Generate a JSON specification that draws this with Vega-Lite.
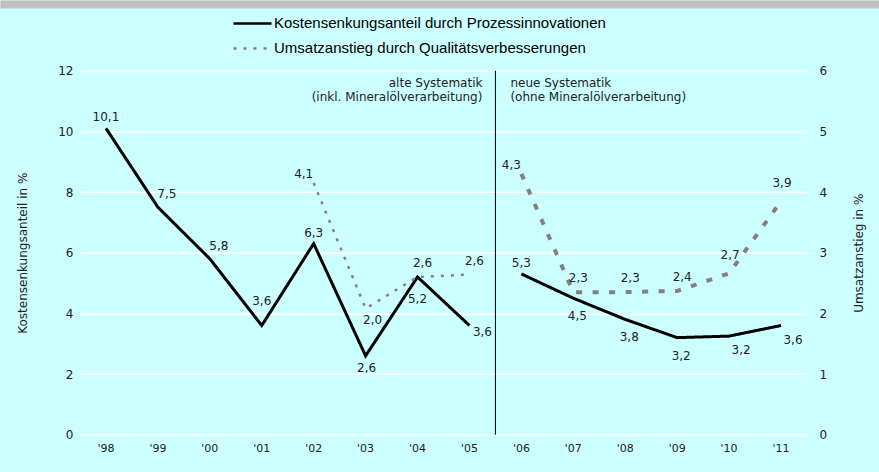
{
  "$schema": "https://vega.github.io/schema/vega-lite/v6.json",
  "background": "#CCFFFF",
  "autosize": {"type": "none"},
  "padding": {"left": 80, "top": 70.7, "right": 72, "bottom": 37.3},
  "width": 727,
  "height": 364,
  "config": {"view": {"stroke": null}, "font": "DejaVu Sans", "text": {"font": "DejaVu Sans", "fontSize": 12, "color": "#222222"}},
  "datasets": {
    "werte": [
      {"jahr": "'98", "reihe": "K", "serie": "Kostensenkungsanteil durch Prozessinnovationen", "periode": "alt", "wert": 10.1, "label": "10,1"},
      {"jahr": "'99", "reihe": "K", "serie": "Kostensenkungsanteil durch Prozessinnovationen", "periode": "alt", "wert": 7.5, "label": "7,5"},
      {"jahr": "'00", "reihe": "K", "serie": "Kostensenkungsanteil durch Prozessinnovationen", "periode": "alt", "wert": 5.8, "label": "5,8"},
      {"jahr": "'01", "reihe": "K", "serie": "Kostensenkungsanteil durch Prozessinnovationen", "periode": "alt", "wert": 3.6, "label": "3,6"},
      {"jahr": "'02", "reihe": "K", "serie": "Kostensenkungsanteil durch Prozessinnovationen", "periode": "alt", "wert": 6.3, "label": "6,3"},
      {"jahr": "'03", "reihe": "K", "serie": "Kostensenkungsanteil durch Prozessinnovationen", "periode": "alt", "wert": 2.6, "label": "2,6"},
      {"jahr": "'04", "reihe": "K", "serie": "Kostensenkungsanteil durch Prozessinnovationen", "periode": "alt", "wert": 5.2, "label": "5,2"},
      {"jahr": "'05", "reihe": "K", "serie": "Kostensenkungsanteil durch Prozessinnovationen", "periode": "alt", "wert": 3.6, "label": "3,6"},
      {"jahr": "'06", "reihe": "K", "serie": "Kostensenkungsanteil durch Prozessinnovationen", "periode": "neu", "wert": 5.3, "label": "5,3"},
      {"jahr": "'07", "reihe": "K", "serie": "Kostensenkungsanteil durch Prozessinnovationen", "periode": "neu", "wert": 4.5, "label": "4,5"},
      {"jahr": "'08", "reihe": "K", "serie": "Kostensenkungsanteil durch Prozessinnovationen", "periode": "neu", "wert": 3.8, "label": "3,8"},
      {"jahr": "'09", "reihe": "K", "serie": "Kostensenkungsanteil durch Prozessinnovationen", "periode": "neu", "wert": 3.2, "label": "3,2"},
      {"jahr": "'10", "reihe": "K", "serie": "Kostensenkungsanteil durch Prozessinnovationen", "periode": "neu", "wert": 3.25, "label": "3,2"},
      {"jahr": "'11", "reihe": "K", "serie": "Kostensenkungsanteil durch Prozessinnovationen", "periode": "neu", "wert": 3.6, "label": "3,6"},
      {"jahr": "'02", "reihe": "U", "serie": "Umsatzanstieg durch Qualitätsverbesserungen", "periode": "alt", "wert": 4.15, "label": "4,1"},
      {"jahr": "'03", "reihe": "U", "serie": "Umsatzanstieg durch Qualitätsverbesserungen", "periode": "alt", "wert": 2.08, "label": "2,0"},
      {"jahr": "'04", "reihe": "U", "serie": "Umsatzanstieg durch Qualitätsverbesserungen", "periode": "alt", "wert": 2.6, "label": "2,6"},
      {"jahr": "'05", "reihe": "U", "serie": "Umsatzanstieg durch Qualitätsverbesserungen", "periode": "alt", "wert": 2.64, "label": "2,6"},
      {"jahr": "'06", "reihe": "U", "serie": "Umsatzanstieg durch Qualitätsverbesserungen", "periode": "neu", "wert": 4.3, "label": "4,3"},
      {"jahr": "'07", "reihe": "U", "serie": "Umsatzanstieg durch Qualitätsverbesserungen", "periode": "neu", "wert": 2.35, "label": "2,3"},
      {"jahr": "'08", "reihe": "U", "serie": "Umsatzanstieg durch Qualitätsverbesserungen", "periode": "neu", "wert": 2.35, "label": "2,3"},
      {"jahr": "'09", "reihe": "U", "serie": "Umsatzanstieg durch Qualitätsverbesserungen", "periode": "neu", "wert": 2.37, "label": "2,4"},
      {"jahr": "'10", "reihe": "U", "serie": "Umsatzanstieg durch Qualitätsverbesserungen", "periode": "neu", "wert": 2.66, "label": "2,7"},
      {"jahr": "'11", "reihe": "U", "serie": "Umsatzanstieg durch Qualitätsverbesserungen", "periode": "neu", "wert": 3.85, "label": "3,9"}
    ],
    "hinweise": [
      {"periode": "alt", "zeilen": ["alte Systematik", "(inkl. Mineralölverarbeitung)"]},
      {"periode": "neu", "zeilen": ["neue Systematik", "(ohne Mineralölverarbeitung)"]}
    ],
    "kopf": [{"v": 1}]
  },
  "data": {"name": "werte"},
  "resolve": {"scale": {"x": "independent"}, "axis": {"x": "independent"}},
  "layer": [
    {
      "data": {"name": "kopf"},
      "mark": {"type": "text"},
      "encoding": {
        "text": {"value": ""},
        "x": {"field": "v", "type": "quantitative", "scale": {"domain": [0, 1], "range": [-80, 799], "nice": false, "zero": false}, "axis": {"orient": "top", "offset": 66.7, "domain": true, "domainWidth": 8, "domainColor": "#C0C0C0", "domainCap": "butt", "ticks": false, "labels": false, "grid": false, "title": null}}
      }
    },
    {
      "resolve": {"scale": {"y": "independent"}},
      "encoding": {
        "x": {
          "field": "jahr", "type": "nominal", "bandPosition": 0.5,
          "scale": {"type": "band", "domain": ["'98", "'99", "'00", "'01", "'02", "'03", "'04", "'05", "'06", "'07", "'08", "'09", "'10", "'11"], "paddingInner": 0, "paddingOuter": 0},
          "axis": {"orient": "bottom", "title": null, "labelAngle": 0, "ticks": false, "domain": false, "grid": false, "labelPadding": 8, "labelFontSize": 11, "labelColor": "#222222", "labelFont": "DejaVu Sans"}
        }
      },
      "layer": [
        {
          "layer": [
            {
              "data": {"values": [{}]},
              "mark": {"type": "rule", "color": "#000000", "strokeWidth": 1},
              "encoding": {"x": {"datum": "'06", "type": "nominal", "bandPosition": 0}}
            },
            {
              "data": {"name": "hinweise"},
              "transform": [{"filter": {"field": "periode", "equal": "alt"}}],
              "mark": {"type": "text", "align": "right", "baseline": "top", "dx": -13, "dy": 7, "lineHeight": 14.5},
              "encoding": {"x": {"datum": "'06", "type": "nominal", "bandPosition": 0}, "y": {"datum": 12, "type": "quantitative"}, "text": {"field": "zeilen"}}
            },
            {
              "data": {"name": "hinweise"},
              "transform": [{"filter": {"field": "periode", "equal": "neu"}}],
              "mark": {"type": "text", "align": "left", "baseline": "top", "dx": 15, "dy": 7, "lineHeight": 14.5},
              "encoding": {"x": {"datum": "'06", "type": "nominal", "bandPosition": 0}, "y": {"datum": 12, "type": "quantitative"}, "text": {"field": "zeilen"}}
            },
            {
              "transform": [{"filter": {"field": "reihe", "equal": "K"}}],
              "mark": {"type": "line", "strokeWidth": 3, "strokeCap": "butt", "strokeJoin": "miter"},
              "encoding": {
                "y": {
                  "field": "wert", "type": "quantitative",
                  "scale": {"domain": [0, 12], "nice": false},
                  "axis": {"orient": "left", "title": "Kostensenkungsanteil in %", "values": [0, 2, 4, 6, 8, 10, 12], "format": "d", "grid": true, "gridColor": "#FFFFFF", "gridWidth": 1.5, "domain": false, "ticks": false, "labelPadding": 7, "labelFontSize": 12, "labelColor": "#222222", "labelFont": "DejaVu Sans", "titleFont": "DejaVu Sans", "titleFontSize": 12, "titleFontWeight": "normal", "titleColor": "#222222", "titleX": -58, "titleY": 182, "titleAngle": 270, "titleBaseline": "middle", "titleAlign": "center"}
                },
                "color": {
                  "field": "serie", "type": "nominal",
                  "scale": {"domain": ["Kostensenkungsanteil durch Prozessinnovationen", "Umsatzanstieg durch Qualitätsverbesserungen"], "range": ["#000000", "#878080"]},
                  "legend": {"orient": "none", "legendX": 150, "legendY": -61.7, "title": null, "direction": "vertical", "symbolType": "stroke", "symbolSize": 1444, "symbolStrokeWidth": 2.5, "labelFont": "Liberation Sans", "labelFontSize": 15, "labelColor": "#000000", "labelLimit": 600, "rowPadding": 0, "clipHeight": 25, "padding": 2, "labelOffset": 1}
                },
                "strokeDash": {
                  "field": "serie", "type": "nominal",
                  "scale": {"domain": ["Kostensenkungsanteil durch Prozessinnovationen", "Umsatzanstieg durch Qualitätsverbesserungen"], "range": [[1, 0], [3, 7]]}
                },
                "detail": {"field": "periode"}
              }
            },
            {
              "transform": [{"filter": {"and": [{"field": "reihe", "equal": "K"}, {"field": "jahr", "oneOf": ["'98", "'02", "'06"]}]}}],
              "mark": {"type": "text", "dx": 0, "dy": -11},
              "encoding": {"y": {"field": "wert", "type": "quantitative"}, "text": {"field": "label"}}
            },
            {
              "transform": [{"filter": {"and": [{"field": "reihe", "equal": "K"}, {"field": "jahr", "oneOf": ["'99", "'00"]}]}}],
              "mark": {"type": "text", "dx": 9, "dy": -13},
              "encoding": {"y": {"field": "wert", "type": "quantitative"}, "text": {"field": "label"}}
            },
            {
              "transform": [{"filter": {"and": [{"field": "reihe", "equal": "K"}, {"field": "jahr", "oneOf": ["'01"]}]}}],
              "mark": {"type": "text", "dx": 0, "dy": -25},
              "encoding": {"y": {"field": "wert", "type": "quantitative"}, "text": {"field": "label"}}
            },
            {
              "transform": [{"filter": {"and": [{"field": "reihe", "equal": "K"}, {"field": "jahr", "oneOf": ["'03"]}]}}],
              "mark": {"type": "text", "dx": 1, "dy": 12},
              "encoding": {"y": {"field": "wert", "type": "quantitative"}, "text": {"field": "label"}}
            },
            {
              "transform": [{"filter": {"and": [{"field": "reihe", "equal": "K"}, {"field": "jahr", "oneOf": ["'04"]}]}}],
              "mark": {"type": "text", "dx": 0, "dy": 22},
              "encoding": {"y": {"field": "wert", "type": "quantitative"}, "text": {"field": "label"}}
            },
            {
              "transform": [{"filter": {"and": [{"field": "reihe", "equal": "K"}, {"field": "jahr", "oneOf": ["'05"]}]}}],
              "mark": {"type": "text", "dx": 13, "dy": 6},
              "encoding": {"y": {"field": "wert", "type": "quantitative"}, "text": {"field": "label"}}
            },
            {
              "transform": [{"filter": {"and": [{"field": "reihe", "equal": "K"}, {"field": "jahr", "oneOf": ["'07", "'08", "'09"]}]}}],
              "mark": {"type": "text", "dx": 4, "dy": 18},
              "encoding": {"y": {"field": "wert", "type": "quantitative"}, "text": {"field": "label"}}
            },
            {
              "transform": [{"filter": {"and": [{"field": "reihe", "equal": "K"}, {"field": "jahr", "oneOf": ["'10", "'11"]}]}}],
              "mark": {"type": "text", "dx": 12, "dy": 14},
              "encoding": {"y": {"field": "wert", "type": "quantitative"}, "text": {"field": "label"}}
            }
          ]
        },
        {
          "layer": [
            {
              "transform": [{"filter": {"and": [{"field": "reihe", "equal": "U"}, {"field": "periode", "equal": "alt"}]}}],
              "mark": {"type": "line", "strokeWidth": 2.5, "strokeCap": "butt"},
              "encoding": {
                "y": {
                  "field": "wert", "type": "quantitative",
                  "scale": {"domain": [0, 6], "nice": false},
                  "axis": {"orient": "right", "title": "Umsatzanstieg in %", "values": [0, 1, 2, 3, 4, 5, 6], "format": "d", "grid": false, "domain": false, "ticks": false, "labelPadding": 12, "labelFontSize": 12, "labelColor": "#222222", "labelFont": "DejaVu Sans", "titleFont": "DejaVu Sans", "titleFontSize": 12, "titleFontWeight": "normal", "titleColor": "#222222", "titleX": 51, "titleY": 182, "titleAngle": 270, "titleBaseline": "middle", "titleAlign": "center"}
                },
                "color": {"field": "serie", "type": "nominal"},
                "strokeDash": {"field": "serie", "type": "nominal"}
              }
            },
            {
              "transform": [{"filter": {"and": [{"field": "reihe", "equal": "U"}, {"field": "periode", "equal": "neu"}]}}],
              "mark": {"type": "line", "strokeWidth": 4, "strokeCap": "butt", "strokeDash": [6, 10.5], "color": "#878080"},
              "encoding": {"y": {"field": "wert", "type": "quantitative"}}
            },
            {
              "transform": [{"filter": {"and": [{"field": "reihe", "equal": "U"}, {"field": "jahr", "oneOf": ["'02", "'06"]}]}}],
              "mark": {"type": "text", "dx": -10, "dy": -9},
              "encoding": {"y": {"field": "wert", "type": "quantitative"}, "text": {"field": "label"}}
            },
            {
              "transform": [{"filter": {"and": [{"field": "reihe", "equal": "U"}, {"field": "jahr", "oneOf": ["'03"]}]}}],
              "mark": {"type": "text", "dx": 7, "dy": 11},
              "encoding": {"y": {"field": "wert", "type": "quantitative"}, "text": {"field": "label"}}
            },
            {
              "transform": [{"filter": {"and": [{"field": "reihe", "equal": "U"}, {"field": "jahr", "oneOf": ["'04", "'05", "'07", "'08", "'09"]}]}}],
              "mark": {"type": "text", "dx": 5, "dy": -14},
              "encoding": {"y": {"field": "wert", "type": "quantitative"}, "text": {"field": "label"}}
            },
            {
              "transform": [{"filter": {"and": [{"field": "reihe", "equal": "U"}, {"field": "jahr", "oneOf": ["'10", "'11"]}]}}],
              "mark": {"type": "text", "dx": 1, "dy": -18},
              "encoding": {"y": {"field": "wert", "type": "quantitative"}, "text": {"field": "label"}}
            }
          ]
        }
      ]
    }
  ]
}
